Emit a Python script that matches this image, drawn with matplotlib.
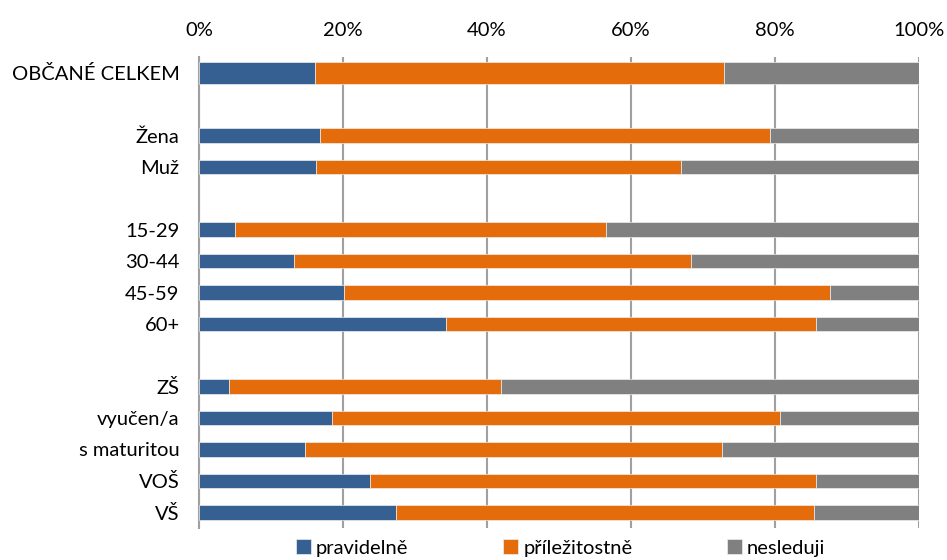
import matplotlib
matplotlib.use("Agg")
import matplotlib.pyplot as plt
import numpy as np

plt.rcParams['font.family'] = ['Lato', 'DejaVu Sans']

# Categories (empty strings are spacer rows between groups)
categories = ["OBČANÉ CELKEM", "", "Žena", "Muž", "", "15-29", "30-44", "45-59", "60+",
              "", "ZŠ", "vyučen/a", "s maturitou", "VOŠ", "VŠ"]
pravidelne = [16.1, np.nan, 16.8, 16.3, np.nan, 5.0, 13.2, 20.1, 34.3,
              np.nan, 4.1, 18.5, 14.7, 23.8, 27.3]
prilezitostne = [56.8, np.nan, 62.5, 50.7, np.nan, 51.5, 55.1, 67.6, 51.4,
                 np.nan, 37.9, 62.2, 57.9, 61.9, 58.1]
nesleduji = [27.1, np.nan, 20.7, 33.0, np.nan, 43.5, 31.7, 12.3, 14.3,
             np.nan, 58.0, 19.3, 27.4, 14.3, 14.6]
series_names = ["pravidelně", "příležitostně", "nesleduji"]
colors = ["#366092", "#E46C0A", "#808080"]
xticks = [0, 20, 40, 60, 80, 100]
xtick_labels = ["0%", "20%", "40%", "60%", "80%", "100%"]

fig = plt.figure(figsize=(9.47, 5.60), dpi=100)
ax = fig.add_axes([199 / 947, 1 - 528 / 560, 720 / 947, 471 / 560])

y = np.arange(len(categories))
valid = ~np.isnan(np.array(pravidelne, dtype=float))
heights = np.array([0.69 if i == 0 else 0.46 for i in range(len(categories))])
left = np.zeros(len(categories))
for vals, name, col in zip([pravidelne, prilezitostne, nesleduji], series_names, colors):
    v = np.nan_to_num(np.array(vals, dtype=float))
    ax.barh(y[valid], v[valid], left=left[valid], height=heights[valid], color=col,
            label=name, edgecolor="#eeeeee", linewidth=0.5, zorder=3)
    left = left + v

ax.set_xlim(0, 100)
ax.set_ylim(len(categories) - 0.5, -0.5)
ax.set_yticks(y)
ax.set_yticklabels(categories, fontsize=14.5)
ax.set_xticks(xticks)
ax.set_xticklabels(xtick_labels, fontsize=14.5)
ax.xaxis.tick_top()
ax.tick_params(axis="both", length=0)
ax.tick_params(axis="x", pad=13)
ax.tick_params(axis="y", pad=14)

ax.grid(axis="x", color="#a0a0a0", linewidth=1.5, zorder=0)
for s in ["top", "right", "bottom"]:
    ax.spines[s].set_visible(False)
ax.spines["left"].set_color("#a0a0a0")
ax.spines["left"].set_linewidth(1.5)

handles, labels = ax.get_legend_handles_labels()
fig.legend(handles, labels, loc="center", bbox_to_anchor=(0.592, 1 - 548 / 560), ncol=3,
           frameon=False, fontsize=14.5, handlelength=0.75, handleheight=0.75,
           handletextpad=0.25, columnspacing=4.7, borderpad=0)

fig.savefig("out.png", dpi=100)
